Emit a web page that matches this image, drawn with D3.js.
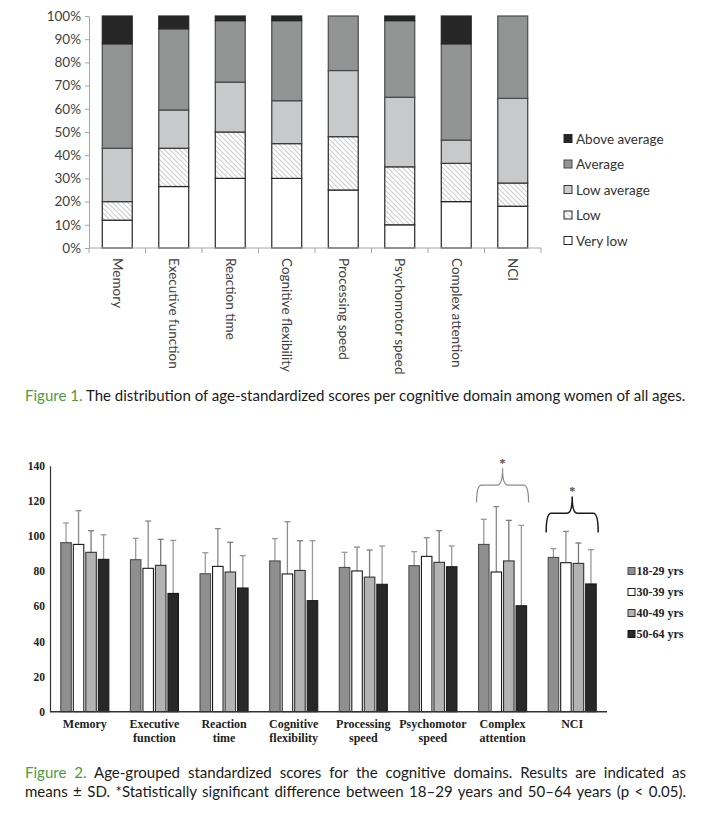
<!DOCTYPE html>
<html>
<head>
<meta charset="utf-8">
<script src="https://cdn.jsdelivr.net/npm/d3@7"></script>
<style>
  html, body { margin: 0; padding: 0; background: #fff; }
  svg { display: block; }
</style>
</head>
<body>
<svg id="fig" width="708" height="822"></svg>
<script>
// ---- Figure 1 data: share of scores per level (%) ----
const domains = ["Memory", "Executive function", "Reaction time", "Cognitive flexibility",
  "Processing speed", "Psychomotor speed", "Complex attention", "NCI"];
const levels = ["Very low", "Low", "Low average", "Average", "Above average"];
const veryLow      = [12, 26.5, 30, 30, 25, 10, 20, 18];
const low          = [8, 16.5, 20, 15, 23, 25, 16.5, 10];
const lowAverage   = [23, 16.5, 21.5, 18.5, 28.5, 30, 10, 36.5];
const average      = [45, 35, 26.5, 34.5, 23.5, 33, 41.5, 35.5];
const aboveAverage = [12, 5.5, 2, 2, 0, 2, 12, 0];
const pctTicks = [0, 10, 20, 30, 40, 50, 60, 70, 80, 90, 100];

// ---- Figure 2 data: means and SD per age group ----
const domainLabels = [["Memory"], ["Executive", "function"], ["Reaction", "time"], ["Cognitive", "flexibility"],
  ["Processing", "speed"], ["Psychomotor", "speed"], ["Complex", "attention"], ["NCI"]];
const ageGroups = ["18-29 yrs", "30-39 yrs", "40-49 yrs", "50-64 yrs"];
const mean18 = [96.2, 86.5, 78.5, 85.8, 82.1, 83.1, 95.2, 87.8];
const mean30 = [95.2, 81.6, 82.7, 78.4, 80.1, 88.4, 79.5, 84.8];
const mean40 = [90.7, 83.3, 79.5, 80.4, 76.6, 85.0, 85.8, 84.4];
const mean50 = [86.7, 67.3, 70.4, 63.2, 72.5, 82.5, 60.3, 72.7];
const sd18 = [11.2, 12.2, 12.0, 12.7, 8.6, 8.0, 14.3, 5.0];
const sd30 = [19.2, 26.9, 21.5, 29.7, 13.6, 10.6, 37.2, 17.8];
const sd40 = [12.3, 14.8, 16.9, 16.9, 15.4, 18.0, 23.1, 11.6];
const sd50 = [14.0, 30.2, 18.4, 34.1, 21.8, 11.8, 45.7, 19.5];
const scoreTicks = [0, 20, 40, 60, 80, 100, 120, 140];
// significance braces (score units): horizontal level, end level, tip level
const sigDomains = ["Complex attention", "NCI"];
const braceLevel = [129, 113];
const braceEnd = [119, 102];
const braceTip = [138.5, 122.5];

const svg = d3.select("#fig");
const sans = "Lato, 'Open Sans', sans-serif";
const serif = "'Liberation Serif', 'DejaVu Serif', serif";

// ================= Figure 1 =================
const fillByLevel = {
  "Very low": "#ffffff", "Low": "url(#hatch)", "Low average": "#c8c9cb",
  "Average": "#929393", "Above average": "#262626"
};
const strokeByLevel = {
  "Very low": "#262626", "Low": "#262626", "Low average": "#3a3a3a",
  "Average": "#4a4a4a", "Above average": "#262626"
};

const defs = svg.append("defs");
const pat = defs.append("pattern")
  .attr("id", "hatch")
  .attr("patternUnits", "userSpaceOnUse")
  .attr("width", 5).attr("height", 5);
pat.append("rect").attr("width", 5).attr("height", 5).attr("fill", "#fff");
pat.append("path")
  .attr("d", "M0,0 L5,5 M-1,4 L1,6 M4,-1 L6,1")
  .attr("stroke", "#cdcdcd").attr("stroke-width", 1.1);

const rows = domains.map((d, i) => ({
  domain: d,
  "Very low": veryLow[i], "Low": low[i], "Low average": lowAverage[i],
  "Average": average[i], "Above average": aboveAverage[i]
}));
const stacked = d3.stack().keys(levels)(rows);

const x1 = d3.scaleBand().domain(domains).range([89, 541]).paddingInner(0.47).paddingOuter(0.235);
const y1 = d3.scaleLinear().domain([0, 100]).range([248, 16]);

const g1 = svg.append("g");

// bars
g1.selectAll("g.layer")
  .data(stacked)
  .join("g")
  .attr("class", "layer")
  .attr("fill", d => fillByLevel[d.key])
  .attr("stroke", d => strokeByLevel[d.key])
  .selectAll("rect")
  .data(d => d.filter(s => s[1] - s[0] > 0))
  .join("rect")
  .attr("x", d => x1(d.data.domain))
  .attr("y", d => y1(d[1]))
  .attr("width", x1.bandwidth())
  .attr("height", d => y1(d[0]) - y1(d[1]))
  .attr("stroke-width", 1.2);

// y axis
const yAxis1 = g1.append("g")
  .attr("transform", "translate(89,0)")
  .call(d3.axisLeft(y1).tickValues(pctTicks).tickFormat(d => d + "%").tickSize(4).tickSizeOuter(0));
yAxis1.select(".domain").attr("stroke", "#a6a6a6");
yAxis1.selectAll(".tick line").attr("stroke", "#a6a6a6");
yAxis1.selectAll(".tick text")
  .attr("x", -8)
  .attr("fill", "#404040")
  .style("font", `13.5px ${sans}`);

// x axis with ticks between categories
g1.append("line")
  .attr("x1", 89).attr("x2", 541).attr("y1", 248).attr("y2", 248)
  .attr("stroke", "#a6a6a6");
g1.selectAll("line.sep")
  .data(d3.range(domains.length + 1))
  .join("line")
  .attr("class", "sep")
  .attr("x1", i => 89 + i * x1.step()).attr("x2", i => 89 + i * x1.step())
  .attr("y1", 248).attr("y2", 253)
  .attr("stroke", "#a6a6a6");
g1.selectAll("text.xlab")
  .data(domains)
  .join("text")
  .attr("class", "xlab")
  .attr("transform", d => `translate(${x1(d) + x1.bandwidth() / 2 - 4.5},258) rotate(90)`)
  .attr("fill", "#404040")
  .style("font", `13.5px ${sans}`)
  .text(d => d);

// legend
const leg1 = g1.append("g").selectAll("g")
  .data(levels.slice().reverse())
  .join("g")
  .attr("transform", (d, i) => `translate(564,${139 + i * 25.5})`);
leg1.append("rect")
  .attr("x", 0).attr("y", -4.5).attr("width", 8).attr("height", 8)
  .attr("fill", d => fillByLevel[d])
  .attr("stroke", d => strokeByLevel[d]).attr("stroke-width", 1);
leg1.append("text")
  .attr("x", 12).attr("y", 4.5)
  .attr("fill", "#333")
  .style("font", `13.5px ${sans}`)
  .text(d => d);

// ================= Figure 2 =================
const means = [mean18, mean30, mean40, mean50];
const sds = [sd18, sd30, sd40, sd50];
const barFill = ["#8f8f8f", "#ffffff", "#b3b3b3", "#282828"];
const barStroke = ["#4d4d4d", "#1a1a1a", "#333333", "#1a1a1a"];
const errColor = ["#9a9a9a", "#8a8a8a", "#7a7a7a", "#9a9a9a"];

const x2 = d3.scaleBand().domain(domains).range([50, 607]).paddingInner(0.31).paddingOuter(0.155);
const xg = d3.scaleBand().domain(ageGroups).range([0, x2.bandwidth()]).paddingInner(0.16).paddingOuter(0);
const y2 = d3.scaleLinear().domain([0, 140]).range([711.7, 465.7]);

const g2 = svg.append("g");

const barData = [];
domains.forEach((d, i) => ageGroups.forEach((a, j) => {
  barData.push({ domain: d, group: a, j: j, mean: means[j][i], sd: sds[j][i] });
}));

// error bars (drawn first so the bar top covers the line start)
const err = g2.append("g").selectAll("g")
  .data(barData)
  .join("g")
  .attr("stroke", d => errColor[d.j])
  .attr("stroke-width", 1.3);
err.append("line")
  .attr("x1", d => x2(d.domain) + xg(d.group) + xg.bandwidth() / 2)
  .attr("x2", d => x2(d.domain) + xg(d.group) + xg.bandwidth() / 2)
  .attr("y1", d => y2(d.mean))
  .attr("y2", d => y2(d.mean + d.sd));
err.append("line")
  .attr("x1", d => x2(d.domain) + xg(d.group) + xg.bandwidth() / 2 - 3)
  .attr("x2", d => x2(d.domain) + xg(d.group) + xg.bandwidth() / 2 + 3)
  .attr("y1", d => y2(d.mean + d.sd))
  .attr("y2", d => y2(d.mean + d.sd));

g2.append("g").selectAll("rect")
  .data(barData)
  .join("rect")
  .attr("x", d => x2(d.domain) + xg(d.group))
  .attr("y", d => y2(d.mean))
  .attr("width", xg.bandwidth())
  .attr("height", d => y2(0) - y2(d.mean))
  .attr("fill", d => barFill[d.j])
  .attr("stroke", d => barStroke[d.j])
  .attr("stroke-width", 1.1);

// axes
const yAxis2 = g2.append("g")
  .attr("transform", "translate(50,0)")
  .call(d3.axisLeft(y2).tickValues(scoreTicks).tickSize(0).tickSizeOuter(0));
yAxis2.select(".domain").attr("stroke", "#333").attr("stroke-width", 1.2);
yAxis2.selectAll(".tick text")
  .attr("x", -5)
  .attr("fill", "#222")
  .style("font", `bold 11.5px ${serif}`);

g2.append("line")
  .attr("x1", 50).attr("x2", 607).attr("y1", y2(0)).attr("y2", y2(0))
  .attr("stroke", "#333").attr("stroke-width", 1.4);

const xl = g2.append("g").selectAll("text")
  .data(domains)
  .join("text")
  .attr("text-anchor", "middle")
  .attr("fill", "#222")
  .style("font", `bold 12px ${serif}`);
xl.selectAll("tspan")
  .data((d, i) => domainLabels[i].map(t => ({ t, d })))
  .join("tspan")
  .attr("x", d => x2(d.d) + x2.bandwidth() / 2)
  .attr("y", (d, k) => 728 + k * 14)
  .text(d => d.t);

// significance braces
sigDomains.forEach((d, i) => {
  const xa = x2(d) - 2, xb = x2(d) + x2.bandwidth() + 2, xm = (xa + xb) / 2;
  const yh = y2(braceLevel[i]), ye = y2(braceEnd[i]), yt = y2(braceTip[i]);
  const r = 5;
  const path = `M${xa},${ye} Q${xa},${yh} ${xa + r},${yh} L${xm - r},${yh} ` +
    `Q${xm},${yh} ${xm},${yt} Q${xm},${yh} ${xm + r},${yh} L${xb - r},${yh} Q${xb},${yh} ${xb},${ye}`;
  g2.append("path")
    .attr("d", path)
    .attr("fill", "none")
    .attr("stroke", i === 0 ? "#8a8a8a" : "#1a1a1a")
    .attr("stroke-width", i === 0 ? 1.2 : 1.5);
  g2.append("text")
    .attr("x", xm).attr("y", yt - 1)
    .attr("text-anchor", "middle")
    .attr("fill", "#5a4a40")
    .style("font", `bold 12px ${serif}`)
    .text("*");
});

// legend
const leg2 = g2.append("g").selectAll("g")
  .data(ageGroups)
  .join("g")
  .attr("transform", (d, i) => `translate(628,${571 + i * 21})`);
leg2.append("rect")
  .attr("x", 0).attr("y", -3.5).attr("width", 7).attr("height", 7)
  .attr("fill", (d, i) => barFill[i])
  .attr("stroke", (d, i) => barStroke[i]).attr("stroke-width", 1);
leg2.append("text")
  .attr("x", 8.5).attr("y", 4)
  .attr("fill", "#222")
  .style("font", `bold 12px ${serif}`)
  .text(d => d);

// ================= captions =================
const green = "#4f9a3c";
const capWidth = 661;
function caption(y, label, rest, fs) {
  const t = svg.append("text")
    .attr("x", 25).attr("y", y)
    .style("font", `${fs}px ${sans}`)
    .attr("fill", "#1a1a1a");
  if (label) t.append("tspan").attr("fill", green).text(label + " ");
  t.append("tspan").text(rest);
  return t;
}
function justify(t, label, rest) {
  const w = t.node().getComputedTextLength();
  const full = (label ? label + " " : "") + rest;
  const gaps = full.split(" ").length - 1;
  t.style("word-spacing", ((capWidth - w) / gaps) + "px");
}
// caption 1: pick a font size so the single line spans the column
const c1 = caption(401, "Figure 1.", "The distribution of age-standardized scores per cognitive domain among women of all ages.", 14);
const fs = 14 * capWidth / c1.node().getComputedTextLength();
c1.style("font-size", fs + "px");

const cap2a = "Age-grouped standardized scores for the cognitive domains. Results are indicated as";
const cap2b = "means \u00b1 SD. *Statistically significant difference between 18\u201329 years and 50\u201364 years (p < 0.05).";
const c2 = caption(778, "Figure 2.", cap2a, fs);
justify(c2, "Figure 2.", cap2a);
const c3 = caption(797, null, cap2b, fs);
justify(c3, null, cap2b);
</script>
</body>
</html>
